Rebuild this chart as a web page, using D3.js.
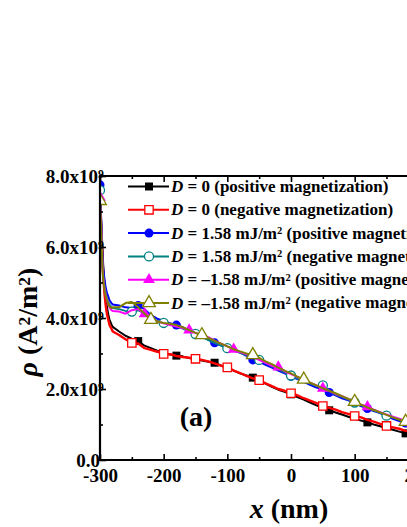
<!DOCTYPE html>
<html>
<head>
<meta charset="utf-8">
<script src="https://cdn.jsdelivr.net/npm/d3@7"></script>
<style>
  body { margin: 0; background: #fff; }
  text { font-family: "Liberation Serif", "Times New Roman", serif; font-weight: bold; }
</style>
</head>
<body>
<svg id="chart" width="407" height="527"></svg>
<script>
// x positions (nm)
const xs = [-300, -299, -298, -297, -296, -295, -293, -291, -289, -287, -285, -282, -280,
  -270, -260, -250, -240, -230, -220, -210, -200,
  -190, -180, -170, -160, -150, -140, -130, -120, -110, -100,
  -90, -80, -70, -60, -50, -40, -30, -20, -10, 0,
  10, 20, 30, 40, 50, 60, 70, 80, 90, 100,
  110, 120, 130, 140, 150, 160, 170, 180, 190, 200];

// rho in units of 1e9 A^2/m^2
const rhoD0Pos = [7.3, 7.0, 6.7, 6.3, 5.9, 5.5, 5.0, 4.6, 4.3, 4.1, 3.95, 3.82, 3.75,
  3.62, 3.5, 3.42, 3.35, 3.22, 3.15, 3.08, 3.02,
  2.97, 2.94, 2.92, 2.87, 2.84, 2.8, 2.77, 2.74, 2.66, 2.6,
  2.52, 2.44, 2.38, 2.32, 2.24, 2.15, 2.06, 1.98, 1.92, 1.85,
  1.77, 1.7, 1.62, 1.54, 1.47, 1.4, 1.34, 1.28, 1.22, 1.16,
  1.11, 1.06, 1.0, 0.95, 0.9, 0.85, 0.8, 0.75, 0.71, 0.67];
const rhoD0Neg = [7.2, 6.9, 6.5, 6.1, 5.6, 5.2, 4.7, 4.35, 4.1, 3.95, 3.8, 3.7, 3.62,
  3.52, 3.4, 3.3, 3.28, 3.15, 3.1, 3.05, 2.99,
  2.98, 2.93, 2.9, 2.88, 2.85, 2.82, 2.78, 2.72, 2.66, 2.61,
  2.52, 2.45, 2.37, 2.3, 2.25, 2.16, 2.08, 2.0, 1.95, 1.88,
  1.82, 1.74, 1.67, 1.6, 1.52, 1.47, 1.42, 1.35, 1.3, 1.24,
  1.2, 1.13, 1.08, 1.02, 0.96, 0.92, 0.88, 0.82, 0.79, 0.76];
const rhoDpPos = [7.75, 7.3, 6.7, 6.1, 5.7, 5.4, 5.1, 4.85, 4.7, 4.6, 4.5, 4.42, 4.38,
  4.35, 4.3, 4.28, 4.35, 4.25, 4.08, 3.98, 3.92,
  3.85, 3.8, 3.74, 3.64, 3.56, 3.46, 3.4, 3.3, 3.23, 3.14,
  3.08, 3.03, 2.93, 2.82, 2.77, 2.68, 2.6, 2.52, 2.44, 2.36,
  2.28, 2.2, 2.12, 2.04, 2.0, 1.9, 1.82, 1.74, 1.68, 1.6,
  1.52, 1.45, 1.38, 1.32, 1.24, 1.16, 1.1, 1.04, 0.99, 0.95];
const rhoDpNeg = [7.6, 7.1, 6.5, 5.95, 5.5, 5.2, 4.9, 4.7, 4.55, 4.45, 4.38, 4.3, 4.28,
  4.25, 4.2, 4.18, 4.22, 4.12, 4.0, 3.92, 3.86,
  3.82, 3.76, 3.7, 3.62, 3.55, 3.48, 3.38, 3.3, 3.22, 3.15,
  3.1, 3.02, 2.95, 2.88, 2.82, 2.74, 2.64, 2.56, 2.47, 2.38,
  2.3, 2.22, 2.15, 2.08, 2.1, 1.95, 1.84, 1.78, 1.7, 1.62,
  1.55, 1.48, 1.4, 1.33, 1.25, 1.2, 1.13, 1.07, 1.02, 0.97];
const rhoDmPos = [7.4, 7.0, 6.5, 5.9, 5.45, 5.15, 4.85, 4.65, 4.5, 4.4, 4.3, 4.22, 4.2,
  4.18, 4.12, 4.22, 4.25, 4.12, 3.98, 3.9, 3.85,
  3.8, 3.76, 3.72, 3.66, 3.58, 3.52, 3.46, 3.36, 3.28, 3.2,
  3.12, 3.04, 2.98, 2.9, 2.82, 2.74, 2.65, 2.62, 2.5, 2.42,
  2.34, 2.25, 2.18, 2.1, 2.02, 1.95, 1.86, 1.8, 1.72, 1.64,
  1.56, 1.5, 1.42, 1.35, 1.28, 1.22, 1.16, 1.1, 1.04, 0.99];
const rhoDmNeg = [7.3, 6.9, 6.4, 5.85, 5.4, 5.1, 4.8, 4.62, 4.5, 4.4, 4.32, 4.28, 4.3,
  4.3, 4.42, 4.45, 4.3, 4.12, 3.95, 3.9, 3.86,
  3.84, 3.8, 3.74, 3.66, 3.58, 3.52, 3.44, 3.36, 3.28, 3.2,
  3.12, 3.06, 3.0, 2.96, 2.88, 2.78, 2.7, 2.6, 2.52, 2.44,
  2.35, 2.27, 2.18, 2.1, 2.02, 1.95, 1.88, 1.8, 1.72, 1.64,
  1.56, 1.48, 1.41, 1.34, 1.27, 1.2, 1.14, 1.08, 1.02, 0.98];

const legendLabels = [
  "= 0 (positive magnetization)",
  "= 0 (negative magnetization)",
  "= 1.58 mJ/m^2 (positive magnetization)",
  "= 1.58 mJ/m^2 (negative magnetization)",
  "= \u20131.58 mJ/m^2 (positive magnetization)",
  "= \u20131.58 mJ/m^2 (negative magnetization)"
];

const xTicks = [-300, -200, -100, 0, 100, 200, 300];
const xMinor = [-250, -150, -50, 50, 150, 250];
const yTicks = [0, 2, 4, 6, 8];
const yMinor = [1, 3, 5, 7];

const series = [
  { values: rhoD0Pos, color: "#000000", symbol: d3.symbolSquare, size: 64, filled: true, mStart: -240, mStep: 60 },
  { values: rhoD0Neg, color: "#ff0000", symbol: d3.symbolSquare, size: 70, filled: false, mStart: -250, mStep: 50 },
  { values: rhoDpPos, color: "#0000ff", symbol: d3.symbolCircle, size: 64, filled: true, mStart: -300, mStep: 60 },
  { values: rhoDpNeg, color: "#008080", symbol: d3.symbolCircle, size: 64, filled: false, mStart: -300, mStep: 50 },
  { values: rhoDmPos, color: "#ff00ff", symbol: d3.symbolTriangle, size: 60, filled: true, mStart: -300, mStep: 70 },
  { values: rhoDmNeg, color: "#808000", symbol: d3.symbolTriangle, size: 70, filled: false, mStart: -300, mStep: 80 }
];

const svg = d3.select("#chart");
const W = 407, H = 527;
svg.append("rect").attr("width", W).attr("height", H).attr("fill", "#fff");

const x = d3.scaleLinear().domain([-300, 300]).range([100, 482]);
const y = d3.scaleLinear().domain([0, 8]).range([460, 176]);

// text with "^2" style superscripts
function richText(sel, str) {
  const parts = str.split(/\^(\w)/);
  let raised = false;
  parts.forEach((p, i) => {
    if (!p) return;
    const ts = sel.append("tspan").text(p);
    if (i % 2 === 1) {
      ts.attr("dy", "-0.42em").attr("font-size", "0.62em");
      raised = true;
    } else if (raised) {
      ts.attr("dy", "0.26em");
      raised = false;
    }
  });
}

// clip for data
svg.append("clipPath").attr("id", "plot-clip")
  .append("rect").attr("x", 99).attr("y", 170).attr("width", 400).attr("height", 292);

const plot = svg.append("g").attr("clip-path", "url(#plot-clip)");

const line = d3.line()
  .x((d) => x(d[0]))
  .y((d) => y(d[1]));

series.forEach((s) => {
  const pts = xs.map((xv, i) => [xv, s.values[i]]);
  plot.append("path")
    .datum(pts)
    .attr("fill", "none")
    .attr("stroke", s.color)
    .attr("stroke-width", s.color === "#ff0000" ? 2.4 : 2)
    .attr("stroke-linejoin", "round")
    .attr("d", line);
  const marks = pts.filter((d) => d[0] >= s.mStart && (d[0] - s.mStart) % s.mStep === 0);
  plot.selectAll(null)
    .data(marks)
    .join("path")
    .attr("transform", (d) => `translate(${x(d[0])},${y(d[1])})`)
    .attr("d", d3.symbol(s.symbol, s.size))
    .attr("fill", s.filled ? s.color : "#fff")
    .attr("stroke", s.color)
    .attr("stroke-width", s.filled ? 0 : 1.3);
});

// axes
const axisG = svg.append("g");
axisG.append("g")
  .attr("transform", "translate(0,460)")
  .call(d3.axisBottom(x).tickValues(xTicks).tickSizeInner(-6).tickSizeOuter(0).tickPadding(9).tickFormat((d) => String(d)))
  .call((g) => g.select(".domain").remove())
  .call((g) => g.selectAll("text").attr("font-size", 19).attr("fill", "#000"));
axisG.append("g")
  .attr("transform", "translate(0,460)")
  .call(d3.axisBottom(x).tickValues(xMinor).tickSizeInner(-3).tickSizeOuter(0).tickFormat(""))
  .call((g) => g.select(".domain").remove());
axisG.append("g")
  .attr("transform", "translate(0,176)")
  .call(d3.axisTop(x).tickValues(xTicks).tickSizeInner(-6).tickSizeOuter(0).tickFormat(""))
  .call((g) => g.select(".domain").remove());
axisG.append("g")
  .attr("transform", "translate(0,176)")
  .call(d3.axisTop(x).tickValues(xMinor).tickSizeInner(-3).tickSizeOuter(0).tickFormat(""))
  .call((g) => g.select(".domain").remove());
axisG.append("g")
  .attr("transform", "translate(100,0)")
  .call(d3.axisLeft(y).tickValues(yTicks).tickSizeInner(-6).tickSizeOuter(0).tickFormat(""))
  .call((g) => g.select(".domain").remove());
axisG.append("g")
  .attr("transform", "translate(100,0)")
  .call(d3.axisLeft(y).tickValues(yMinor).tickSizeInner(-3).tickSizeOuter(0).tickFormat(""))
  .call((g) => g.select(".domain").remove());
axisG.selectAll(".tick line").attr("stroke", "#000").attr("stroke-width", 1.6);
axisG.selectAll("text").filter(function () { return !this.textContent; }).remove();

// y tick labels
yTicks.forEach((v) => {
  const t = svg.append("text")
    .attr("x", v === 0 ? 100 : 104)
    .attr("y", y(v) + 6.5)
    .attr("text-anchor", "end")
    .attr("font-size", 19);
  if (v === 0) t.text("0.0");
  else richText(t, `${v.toFixed(1)}x10^9`);
});

// frame
svg.append("path")
  .attr("d", `M${W + 5},176H100V460H${W + 5}`)
  .attr("fill", "none")
  .attr("stroke", "#000")
  .attr("stroke-width", 2.2);

// axis titles
const xt = svg.append("text").attr("x", 289).attr("y", 518).attr("text-anchor", "middle").attr("font-size", 28);
xt.append("tspan").attr("font-style", "italic").text("x");
xt.append("tspan").text(" (nm)");

const yt = svg.append("text")
  .attr("transform", "translate(37,322) rotate(-90)")
  .attr("text-anchor", "middle")
  .attr("font-size", 28);
yt.append("tspan").attr("font-style", "italic").text("\u03c1");
richText(yt, " (A^2/m^2)");

svg.append("text").attr("x", 196).attr("y", 426).attr("text-anchor", "middle").attr("font-size", 28).text("(a)");

// legend
const legend = svg.append("g");
series.forEach((s, i) => {
  const cy = 186.5 + i * 23.3;
  legend.append("line")
    .attr("x1", 128).attr("x2", 169).attr("y1", cy).attr("y2", cy)
    .attr("stroke", s.color).attr("stroke-width", 2);
  legend.append("path")
    .attr("transform", `translate(149,${cy})`)
    .attr("d", d3.symbol(s.symbol, s.size))
    .attr("fill", s.filled ? s.color : "#fff")
    .attr("stroke", s.color)
    .attr("stroke-width", s.filled ? 0 : 1.3);
  const t = legend.append("text").attr("x", 171).attr("y", cy + 5.5).attr("font-size", 17);
  t.append("tspan").attr("font-style", "italic").text("D ");
  richText(t, legendLabels[i]);
});
</script>
</body>
</html>
